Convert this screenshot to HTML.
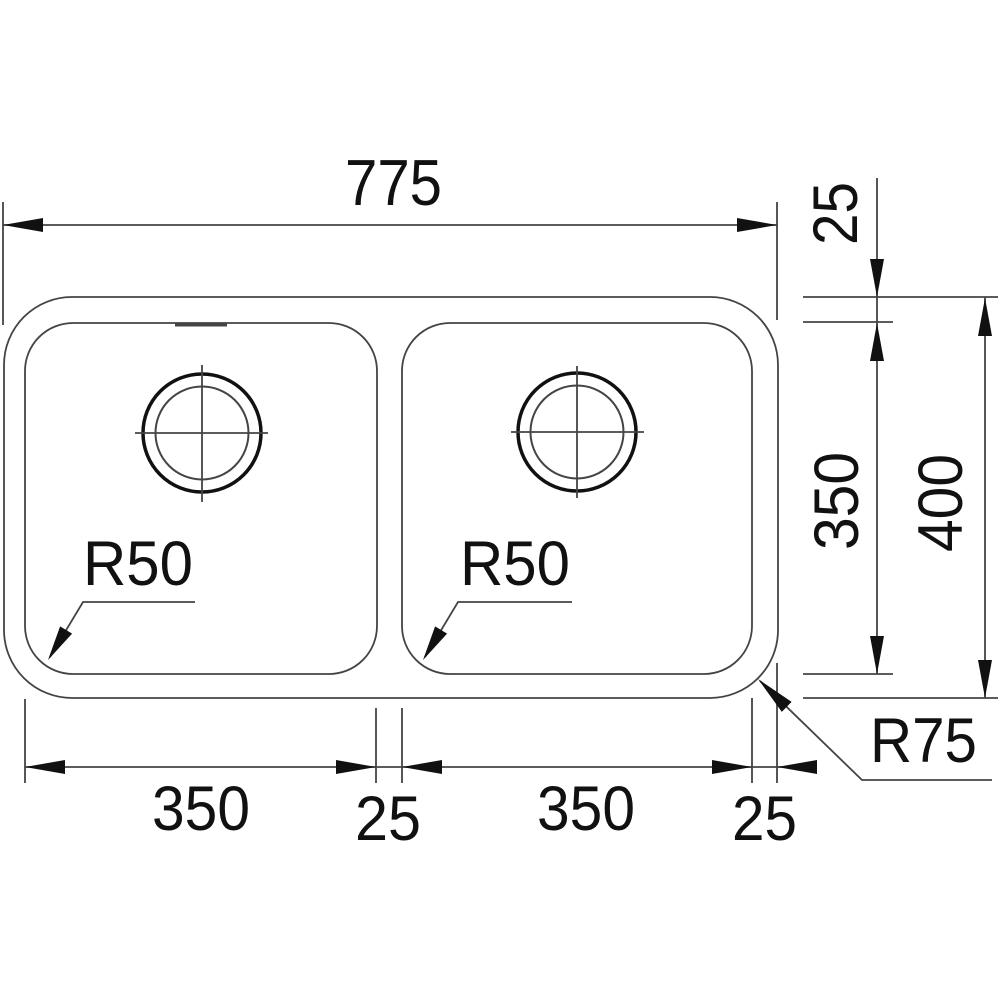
<!DOCTYPE html>
<html>
<head>
<meta charset="utf-8">
<style>
html,body{margin:0;padding:0;background:#fff;}
svg{display:block;}
text{font-family:"Liberation Sans",Arial,sans-serif;font-size:63px;fill:#111;}
</style>
</head>
<body>
<svg width="1000" height="1000" viewBox="0 0 1000 1000" xmlns="http://www.w3.org/2000/svg">
<g fill="none" stroke="#444" stroke-width="1.8">
  <!-- outer sink -->
  <rect x="4" y="297" width="774" height="401" rx="68" ry="68"/>
  <!-- bowls -->
  <rect x="25" y="323" width="352" height="351" rx="48" ry="48"/>
  <rect x="402" y="323" width="350" height="351" rx="48" ry="48"/>
  <line x1="175" y1="325" x2="227" y2="325" stroke-width="3"/>

  <!-- drains -->
  <circle cx="202" cy="433" r="59" stroke="#111" stroke-width="3.5"/>
  <circle cx="202" cy="433" r="46.5" stroke-width="2"/>
  <line x1="135" y1="433" x2="268" y2="433"/>
  <line x1="202" y1="365" x2="202" y2="502"/>
  <circle cx="577" cy="432" r="59" stroke="#111" stroke-width="3.5"/>
  <circle cx="577" cy="432" r="46.5" stroke-width="2"/>
  <line x1="511" y1="432" x2="644" y2="432"/>
  <line x1="577" y1="366" x2="577" y2="498"/>

  <!-- 775 dimension -->
  <line x1="3" y1="202" x2="3" y2="325"/>
  <line x1="777" y1="202" x2="777" y2="320"/>
  <line x1="3" y1="225" x2="777" y2="225"/>

  <!-- right vertical dims -->
  <line x1="803" y1="297" x2="998" y2="297"/>
  <line x1="803" y1="322" x2="893" y2="322"/>
  <line x1="803" y1="674" x2="893" y2="674"/>
  <line x1="803" y1="698" x2="998" y2="698"/>
  <line x1="877" y1="178" x2="877" y2="674"/>
  <line x1="985" y1="297" x2="985" y2="698"/>

  <!-- bottom dims -->
  <line x1="25" y1="699" x2="25" y2="783"/>
  <line x1="376" y1="708" x2="376" y2="783"/>
  <line x1="402" y1="708" x2="402" y2="783"/>
  <line x1="752" y1="698" x2="752" y2="783"/>
  <line x1="777" y1="663" x2="777" y2="783"/>
  <line x1="25" y1="767" x2="817" y2="767"/>

  <!-- R50 leaders -->
  <polyline points="195,602 83,602 50,657"/>
  <polyline points="572,602 458,602 425,657"/>
  <!-- R75 leader -->
  <polyline points="760,681 862,780 992,780"/>
</g>

<g fill="#111" stroke="none">
  <!-- 775 arrows -->
  <polygon points="3,225 43,218 43,232"/>
  <polygon points="777,225 737,218 737,232"/>
  <!-- vertical arrows -->
  <polygon points="877,297 870,259 884,259"/>
  <polygon points="877,323 870,361 884,361"/>
  <polygon points="877,674 870,636 884,636"/>
  <polygon points="985,298 978,336 992,336"/>
  <polygon points="985,698 978,660 992,660"/>
  <!-- bottom arrows -->
  <polygon points="25,767 65,760 65,774"/>
  <polygon points="376,767 336,760 336,774"/>
  <polygon points="402,767 442,760 442,774"/>
  <polygon points="752,767 712,760 712,774"/>
  <polygon points="777,767 817,760 817,774"/>
  <!-- R50 arrows -->
  <polygon points="48,660 72.1,633.6 60.1,626.4"/>
  <polygon points="423,660 447.1,633.6 435.1,626.4"/>
  <!-- R75 arrow -->
  <polygon points="758,679 791.6,701.9 781.8,711.9"/>
</g>

<!-- labels -->
<text x="345" y="205" textLength="97" lengthAdjust="spacingAndGlyphs" style="font-size:65px">775</text>
<text transform="translate(857,245) rotate(-90)" textLength="63" lengthAdjust="spacingAndGlyphs">25</text>
<text transform="translate(858,550) rotate(-90)" textLength="98" lengthAdjust="spacingAndGlyphs">350</text>
<text transform="translate(962,552) rotate(-90)" textLength="98" lengthAdjust="spacingAndGlyphs">400</text>
<text x="83" y="585" textLength="110" lengthAdjust="spacingAndGlyphs">R50</text>
<text x="460" y="585" textLength="110" lengthAdjust="spacingAndGlyphs">R50</text>
<text x="152" y="830" textLength="98" lengthAdjust="spacingAndGlyphs">350</text>
<text x="355" y="840" textLength="66" lengthAdjust="spacingAndGlyphs">25</text>
<text x="537" y="830" textLength="98" lengthAdjust="spacingAndGlyphs">350</text>
<text x="732" y="840" textLength="65" lengthAdjust="spacingAndGlyphs">25</text>
<text x="870" y="762" textLength="107" lengthAdjust="spacingAndGlyphs">R75</text>
</svg>
</body>
</html>
